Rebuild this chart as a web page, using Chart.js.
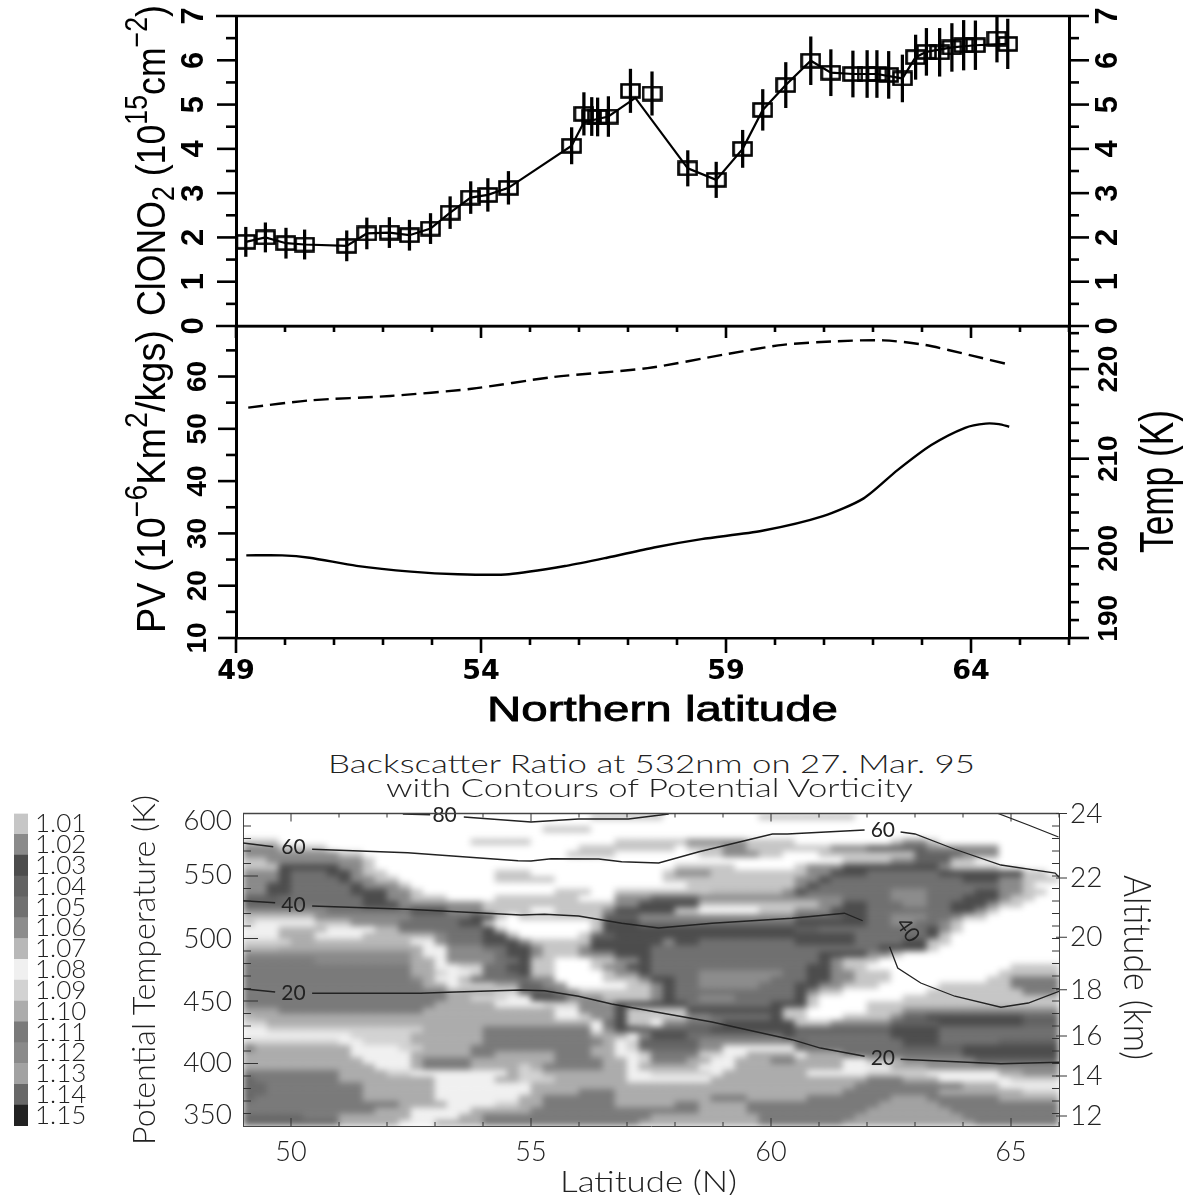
<!DOCTYPE html>
<html>
<head>
<meta charset="utf-8">
<title>ClONO2, PV and backscatter ratio</title>
<script src="https://cdn.jsdelivr.net/npm/chart.js@4/dist/chart.umd.min.js"></script>
<style>
  html, body { margin: 0; background: #fff; }
  #page { position: relative; width: 1191px; height: 1195px; overflow: hidden; background: #fff; }
  #page canvas { position: absolute; left: 0; }
  /* the field in the reference has soft contour edges, the axes stay sharp on their own canvas */
  #cells { filter: blur(3px); clip-path: inset(23.5px 132px 69px 243px); }
  .lab { position: absolute; left: 0; top: 0; line-height: 1; white-space: nowrap; transform-origin: 0 0; }
  .up { font-size: .75em; position: relative; top: -.6em; }
  .dn { font-size: .75em; position: relative; top: .3em; }
</style>
</head>
<body>
<div id="page">
  <canvas id="cells" width="1191" height="405" style="top:790px"></canvas>
  <canvas id="heat" width="1191" height="405" style="top:790px"></canvas>
  <canvas id="bar" width="120" height="350" style="top:790px"></canvas>
  <canvas id="pv" width="1191" height="420" style="top:300px"></canvas>
  <canvas id="clono" width="1191" height="386" style="top:-40px"></canvas>
</div>
<script>
// top panel
const clonoLat = [49.2, 49.6, 50.02, 50.4, 51.26, 51.67, 52.13, 52.54, 52.97, 53.37, 53.79, 54.14, 54.56, 55.85, 56.1, 56.26, 56.38, 56.6, 57.05, 57.49, 58.22, 58.8, 59.34, 59.75, 60.22, 60.73, 61.14, 61.59, 61.88, 62.08, 62.32, 62.6, 62.87, 63.09, 63.36, 63.61, 63.85, 64.09, 64.53, 64.75];
const clonoVal = [1.9, 2.0, 1.87, 1.84, 1.81, 2.09, 2.11, 2.05, 2.2, 2.56, 2.9, 2.96, 3.12, 4.07, 4.79, 4.73, 4.72, 4.73, 5.31, 5.25, 3.56, 3.3, 4.0, 4.88, 5.44, 5.99, 5.72, 5.69, 5.69, 5.69, 5.67, 5.59, 6.07, 6.19, 6.18, 6.29, 6.34, 6.34, 6.49, 6.37];
const clonoErr = [.33, .33, .34, .33, .34, .35, .34, .34, .34, .36, .36, .37, .37, .41, .48, .43, .43, .45, .49, .49, .4, .4, .42, .46, .51, .54, .52, .52, .53, .53, .53, .53, .5, .53, .54, .54, .56, .55, .53, .56];
// the joining line misses the two boxes at the peak
const lineLat = [49.2, 49.6, 50.02, 50.4, 51.26, 51.67, 52.13, 52.54, 52.97, 53.37, 53.79, 54.14, 54.56, 55.85, 56.1, 56.6, 57.15, 58.22, 58.8, 59.34, 59.75, 60.22, 60.73, 61.14, 61.59, 62.08, 62.6, 62.87, 63.09, 63.61, 64.09, 64.75];
const lineVal = [1.9, 2.0, 1.87, 1.84, 1.81, 2.09, 2.11, 2.05, 2.2, 2.56, 2.9, 2.96, 3.12, 4.07, 4.6, 4.73, 5.15, 3.56, 3.3, 4.0, 4.88, 5.44, 5.99, 5.72, 5.69, 5.69, 5.59, 6.07, 6.19, 6.29, 6.34, 6.37];

// middle panel
const pvLat = [49.21, 49.94, 50.5, 51.46, 52.57, 53.53, 54.57, 55.74, 56.57, 57.53, 58.5, 59.74, 60.98, 61.81, 62.5, 63.19, 63.88, 64.3, 64.57, 64.78];
const pvVal = [25.8, 25.8, 25.35, 23.8, 22.7, 22.2, 22.2, 23.8, 25.35, 27.3, 28.9, 30.5, 33.3, 36.7, 42.1, 46.9, 50.2, 51, 50.9, 50.4];
const tempLat = [49.25, 50.5, 52.15, 53.81, 55.46, 57.4, 59.05, 60.16, 61.26, 62.22, 63.05, 64.02, 64.78];
const tempVal = [215.7, 216.5, 217, 217.8, 219.1, 220.1, 221.7, 222.7, 223.1, 223.2, 222.7, 221.5, 220.5];

// backscatter: one string per 5 K row from 600 K down, runs of level<endColumn, columns are 0.25 deg from 49N
// 0 = below 1.01, 1..9 and a..f = 1.01 .. 1.15
const backscatterRuns = [
"0<29 1<35 0<43 1<51 0<68",
"0<68",
"0<25 1<29 0<68",
"0<68",
"1<3 0<19 1<24 0<31 1<37 2<42 1<46 0<54 1<55 2<57 1<58 0<68",
"2<3 1<7 0<28 1<36 0<37 1<40 2<42 1<49 2<52 4<57 2<63 0<68",
"2<8 1<10 0<27 1<31 0<38 1<40 2<43 1<45 0<48 1<56 4<60 2<63 0<68",
"1<2 2<10 1<11 0<50 1<54 2<56 4<59 1<61 0<68",
"1<3 3<8 2<10 1<11 0<36 1<41 0<46 1<47 2<50 3<58 2<59 1<63 0<68",
"2<3 3<4 5<7 3<9 2<10 1<12 0<21 1<24 0<35 1<36 2<39 1<47 2<49 3<52 5<58 3<65 1<67 0<68",
"2<3 3<4 5<8 3<9 2<11 1<13 0<21 1<26 0<35 1<46 2<48 3<49 5<60 3<63 2<65 1<68",
"2<2 3<4 5<9 3<10 2<13 1<14 0<37 1<46 2<47 3<48 5<63 2<65 1<66 0<68",
"2<2 3<4 5<9 3<12 2<14 1<15 0<26 1<29 0<31 1<39 7<45 2<46 3<47 5<54 6<57 5<61 3<63 2<65 1<67 0<68",
"4<3 5<10 3<12 2<14 1<17 0<21 1<28 0<31 2<34 4<38 2<50 5<54 6<57 5<60 3<63 2<64 1<66 0<68",
"4<4 5<10 3<13 2<20 1<31 2<33 3<38 1<48 2<50 3<52 5<55 6<57 5<59 3<62 2<63 1<65 0<68",
"2<7 5<14 3<17 2<20 1<24 0<26 1<30 2<31 3<36 1<38 0<43 1<46 2<49 3<52 5<59 3<61 2<62 1<63 0<68",
"1<6 2<14 5<19 3<21 1<22 0<23 1<30 4<33 2<46 4<50 3<52 5<54 6<57 5<59 2<60 1<62 0<68",
"1<1 8<6 1<9 2<13 5<18 3<20 1<21 0<29 1<30 3<33 5<46 3<52 5<54 6<56 5<58 2<59 1<60 0<68",
"8<3 7<7 8<11 7<13 5<20 3<21 1<22 0<29 1<30 3<46 4<48 5<57 3<58 2<59 1<60 0<68",
"8<3 a<6 8<10 7<16 2<17 5<20 3<22 7<23 0<28 1<29 4<31 3<51 5<57 3<58 1<59 0<68",
"9<4 a<6 7<14 8<16 2<17 5<20 3<23 2<24 1<29 3<35 2<36 3<38 5<46 3<51 5<55 3<57 1<59 0<68",
"7<3 a<15 8<17 2<20 5<22 3<24 2<25 1<28 2<29 3<34 5<53 3<57 1<58 0<68",
"c<14 a<15 8<17 2<21 5<22 3<24 2<25 1<28 2<31 3<34 5<48 3<52 2<54 1<55 0<68",
"b<6 c<14 a<16 8<17 2<21 5<23 3<24 1<26 0<29 1<31 2<33 3<34 5<48 3<49 2<50 1<53 0<68",
"b<14 a<16 8<18 9<20 5<22 3<24 1<26 0<29 1<30 2<32 3<34 5<47 3<49 2<50 1<52 0<64 1<68",
"b<14 a<16 9<17 8<19 9<20 5<22 4<23 3<24 1<26 0<30 1<31 2<33 3<34 5<38 6<45 5<47 3<49 2<51 1<54 0<63 1<68",
"b<14 c<15 a<16 8<18 7<19 5<24 2<26 0<30 1<33 2<34 3<36 5<38 6<44 5<47 3<49 2<51 1<54 0<62 1<64 b<68",
"b<15 a<17 8<18 9<21 a<23 4<25 2<27 0<32 1<34 2<35 3<36 5<38 6<43 5<46 3<48 2<50 1<53 0<58 1<64 b<68",
"b<17 a<21 9<23 4<26 2<28 1<34 2<35 3<36 5<46 3<47 2<48 1<50 0<57 1<65 b<68",
"b<17 a<19 9<22 8<24 3<27 2<30 1<34 2<35 3<36 5<38 6<41 5<46 3<47 1<48 0<55 1<68",
"b<16 a<21 8<25 9<28 2<31 3<37 5<44 3<47 1<48 0<52 1<68",
"d<3 b<15 a<26 8<28 2<31 3<32 1<37 3<45 1<47 0<52 1<55 2<68",
"7<1 a<26 8<28 9<29 2<31 3<32 1<37 2<39 5<44 3<45 1<47 0<50 1<54 2<55 4<57 3<65 4<68",
"9<2 a<29 8<30 5<31 3<32 1<34 0<35 2<37 5<40 3<46 1<49 2<54 4<58 3<65 4<68",
"8<2 9<15 a<20 b<29 8<30 2<31 3<33 4<39 3<46 4<54 3<58 5<68",
"8<9 9<14 a<20 b<29 a<32 8<33 2<34 3<37 5<45 3<46 5<54 3<58 5<68",
"9<8 8<10 9<14 a<20 b<30 a<31 8<32 9<33 4<38 2<46 4<47 5<55 3<58 5<63 4<68",
"b<1 a<9 8<13 9<15 a<19 b<29 a<31 8<32 9<33 e<38 2<40 8<46 5<55 4<60 3<68",
"a<9 8<14 a<19 b<21 a<26 b<29 a<31 8<33 9<34 b<38 9<40 8<42 a<46 8<47 a<50 5<60 3<68",
"a<10 8<14 a<15 b<19 a<26 b<30 a<32 8<33 9<34 b<37 a<39 8<41 a<44 b<46 a<50 8<52 7<55 c<61 4<68",
"a<11 8<14 a<15 b<19 a<23 9<24 a<25 b<30 a<32 8<33 a<38 8<41 a<50 8<54 a<57 c<68",
"b<8 a<12 9<14 8<22 a<23 9<25 a<32 8<34 9<39 8<40 a<47 8<52 9<57 8<63 a<65 c<68",
"e<1 b<8 a<16 8<21 a<23 9<26 a<32 8<39 a<52 b<55 a<58 8<64 9<68",
"e<2 b<10 a<16 8<24 a<51 b<60 a<63 8<68",
"e<2 b<10 a<16 8<24 a<28 b<31 a<50 b<58 a<65 9<68",
"e<1 b<10 a<16 8<23 a<25 b<31 a<39 b<42 a<47 b<54 d<57 b<63 a<68",
"b<13 a<17 8<21 9<23 a<25 b<31 a<36 b<38 a<42 b<53 d<58 b<68",
"b<11 a<14 8<19 a<24 b<38 a<42 b<52 d<59 b<68",
"e<5 b<8 a<14 8<18 a<20 b<34 a<43 b<51 d<60 b<68",
"e<8 a<13 8<16 a<20 b<33 a<43 b<50 d<61 b<68"
];
const ratioLevels = [1.01, 1.02, 1.03, 1.04, 1.05, 1.06, 1.07, 1.08, 1.09, 1.10, 1.11, 1.12, 1.13, 1.14, 1.15];
const levelColors = ["#c6c6c6", "#8a8a8a", "#4c4c4c", "#626262", "#707070", "#8c8c8c", "#b8b8b8", "#f0f0f0", "#d2d2d2", "#acacac", "#7a7a7a", "#8a8a8a", "#a2a2a2", "#686868", "#222222"];

// PV contours over the backscatter field, null leaves the gap for the label
const pv80Lat = [52.33, 52.9, null, 53.6, 55.0, 55.99, 57.03, 57.87];
const pv80Theta = [599.6, 599, null, 597.2, 593.2, 595.6, 595.6, 599.6];
const pv60Lat = [49, 49.63, null, 50.44, 52.43, 54.73, 55.0, 55.42, 56.41, 56.89, 57.66, 58.5, 60.03, 60.34, 61.95, null, 62.7, 63.0, 63.83, 64.79, 65.92, 66];
const pv60Theta = [576.4, 573.4, null, 571.4, 568.6, 562.2, 562, 563.8, 563.6, 561.4, 560.4, 569.4, 583.6, 583.6, 586.8, null, 585.2, 583.6, 571.4, 558.8, 552.4, 549];
const pv60TopLat = [64.73, 65.36, 65.99];
const pv60TopTheta = [600, 590.8, 581.2];
const pv40Lat = [49, 49.67, null, 50.44, 52.43, 54.79, 55.28, 55.99, 56.89, 57.66, 58.77, 60.44, 61.53, 61.91, null, 62.47, 62.64, 63.12, 63.83, 64.79, 65.36, 66];
const pv40Theta = [530.2, 528.6, null, 526, 523.4, 518.8, 519.4, 518, 512.2, 508.4, 512.2, 516.2, 520.2, 514.2, null, 493.4, 476.4, 464.4, 453.8, 445, 448.4, 457.8];
const pv20Lat = [49, 49.67, null, 50.44, 52.7, 53.27, 54.79, 55.28, 55.99, 56.68, 57.72, 58.77, 60.44, 61.03, 61.95, null, 62.7, 64.79, 66];
const pv20Theta = [459.8, 457.2, null, 456.2, 456.2, 457, 458.8, 458.2, 453.8, 447.6, 440.4, 433.2, 419, 412.4, 405.8, null, 403.4, 399.8, 401];
const contourText = ["80", "60", "40", "20", "60", "40", "20"];
const contourTextLat = [53.2, 50.05, 50.05, 50.05, 62.33, 62.85, 62.33];
const contourTextTheta = [598.6, 573, 526.8, 456.4, 586.8, 506.8, 404.4];
const contourTextTurn = [0, 0, 0, 0, 0, 55, 0];

// axis labels of the lower figure, the end ones sit inside the frame in the original
const thetaLabels = [350, 400, 450, 500, 550, 600];
const thetaLabelAt = [359, 400.4, 449, 500, 551, 594];
const thetaMinor = [360, 370, 380, 390, 410, 420, 430, 440, 460, 470, 480, 490, 510, 520, 530, 540, 560, 570, 580, 590];
const thetaMajor = [400, 450, 500, 550];
const altLabels = [12, 14, 16, 18, 20, 22, 24];
const altLabelAt = [358, 390, 422, 459, 501, 548.4, 600];
const tempLabels = [190, 200, 210, 220];
const tempLabelAt = [192.2, 200, 210, 220];

const latMajor = [49, 54, 59, 64];
const latMinor = [50, 51, 52, 53, 55, 56, 57, 58, 60, 61, 62, 63, 65, 66];
const heatLatMajor = [50, 55, 60, 65];
const heatLatMinor = [51, 52, 53, 54, 56, 57, 58, 59, 61, 62, 63, 64, 66];

Chart.defaults.animation = false;
Chart.defaults.responsive = false;
Chart.defaults.plugins.legend.display = false;
Chart.defaults.plugins.tooltip.enabled = false;

const BOLD = "'Liberation Sans', sans-serif";
const LIGHT = "Lato, 'Open Sans', sans-serif";

// tick marks with two lengths, drawn through the chart's scales
function tickMarks(marks) {
  return {
    id: "tickMarks",
    afterDatasetsDraw(chart) {
      const { ctx, chartArea: a, scales } = chart;
      ctx.save();
      marks.forEach(m => {
        ctx.strokeStyle = m.color || "#000";
        ctx.lineWidth = m.width;
        m.values.forEach(v => {
          const p = scales[m.scale].getPixelForValue(v);
          const e = a[m.edge];
          ctx.beginPath();
          if (m.edge === "left" || m.edge === "right") {
            ctx.moveTo(e + m.from, p);
            ctx.lineTo(e + m.to, p);
          } else {
            ctx.moveTo(p, e + m.from);
            ctx.lineTo(p, e + m.to);
          }
          ctx.stroke();
        });
      });
      ctx.restore();
    }
  };
}

function zip(xs, ys) {
  return xs.map((x, i) => ({ x: x, y: ys[i] }));
}

function boxMarker() {
  const c = document.createElement("canvas");
  c.width = 21;
  c.height = 16;
  const g = c.getContext("2d");
  g.strokeStyle = "#000";
  g.lineWidth = 2.6;
  g.strokeRect(1.5, 1.5, 18, 13);
  return c;
}

// fixed axis width, and no extra room for the end labels or the plot area moves
function fixedWidth(width) {
  return s => {
    s.width = width;
    s.paddingTop = 0;
    s.paddingBottom = 0;
  };
}

function sideAxis(pos, width, min, max, extra) {
  return Object.assign({
    type: "linear",
    position: pos,
    min: min,
    max: max,
    afterFit: fixedWidth(width),
    grid: { drawOnChartArea: false, drawTicks: false },
    border: { display: true, width: 3, color: "#000" }
  }, extra);
}

function rotatedTicks(size, padding, step) {
  return {
    stepSize: step,
    includeBounds: false,
    autoSkip: false,
    minRotation: 90,
    maxRotation: 90,
    crossAlign: "center",
    padding: padding,
    color: "#000",
    font: { family: BOLD, weight: "bold", size: size }
  };
}

// top panel
new Chart(document.getElementById("clono"), {
  type: "bar",
  data: {
    datasets: [
      {
        type: "line", order: 0, data: zip(clonoLat, clonoVal), showLine: false,
        pointStyle: boxMarker(), pointRadius: 10, yAxisID: "y"
      },
      {
        type: "line", order: 1, data: zip(lineLat, lineVal), borderColor: "#000",
        borderWidth: 2.2, pointRadius: 0, yAxisID: "y"
      },
      {
        order: 2, data: clonoLat.map((x, i) => ({ x: x, y: [clonoVal[i] - clonoErr[i], clonoVal[i] + clonoErr[i]] })),
        backgroundColor: "#000", barThickness: 2.6, yAxisID: "y"
      }
    ]
  },
  options: {
    layout: { padding: { top: 56 } },
    scales: {
      x: {
        type: "linear", min: 49, max: 66, offset: false,
        afterFit: s => { s.height = 20; },
        grid: { drawOnChartArea: false, drawTicks: false, offset: false },
        border: { display: true, width: 2.6, color: "#000" },
        ticks: { display: false }
      },
      y: sideAxis("left", 236, 0, 7, { ticks: rotatedTicks(31, 33, 1) }),
      yr: sideAxis("right", 122, 0, 7, { ticks: rotatedTicks(31, 31, 1) })
    }
  },
  plugins: [tickMarks([
    { scale: "y", edge: "left", values: [7, 0], from: -20, to: 853, width: 2.6 },
    { scale: "y", edge: "left", values: [1, 2, 3, 4, 5, 6], from: -19, to: 0, width: 2.6 },
    { scale: "y", edge: "left", values: [.5, 1.5, 2.5, 3.5, 4.5, 5.5, 6.5], from: -10, to: 0, width: 2.6 },
    { scale: "yr", edge: "right", values: [1, 2, 3, 4, 5, 6], from: 0, to: 20, width: 2.6 },
    { scale: "yr", edge: "right", values: [.5, 1.5, 2.5, 3.5, 4.5, 5.5, 6.5], from: 0, to: 10, width: 2.6 },
    { scale: "x", edge: "bottom", values: latMajor, from: 0, to: 12, width: 2.6 },
    { scale: "x", edge: "bottom", values: latMinor, from: 0, to: 6, width: 2.6 }
  ])]
});

// middle panel
new Chart(document.getElementById("pv"), {
  type: "line",
  data: {
    datasets: [
      {
        data: zip(pvLat, pvVal), borderColor: "#000", borderWidth: 2.4, pointRadius: 0,
        tension: 0.25, yAxisID: "y"
      },
      {
        data: zip(tempLat, tempVal), borderColor: "#000", borderWidth: 2.4, pointRadius: 0,
        tension: 0.25, borderDash: [15, 7], yAxisID: "yr"
      }
    ]
  },
  options: {
    layout: { padding: { top: 26 } },
    scales: {
      x: {
        type: "linear", min: 49, max: 66,
        afterFit: s => { s.height = 82; },
        afterBuildTicks: s => { s.ticks = latMajor.map(v => ({ value: v })); },
        grid: { drawOnChartArea: false, drawTicks: false },
        border: { display: true, width: 2.6, color: "#000" },
        ticks: {
          autoSkip: false, maxRotation: 0, padding: 18, color: "#000",
          font: { family: "'DejaVu Sans', sans-serif", weight: "bold", size: 27 }
        }
      },
      y: sideAxis("left", 236, 10, 69.66, { ticks: rotatedTicks(28, 22, 10) }),
      yr: sideAxis("right", 122, 190, 224.8, {
        afterBuildTicks: s => { s.ticks = tempLabelAt.map(v => ({ value: v })); },
        ticks: Object.assign(rotatedTicks(28, 17, 10), { callback: (v, i) => tempLabels[i] })
      })
    }
  },
  plugins: [tickMarks([
    { scale: "y", edge: "left", values: [10, 20, 30, 40, 50, 60], from: -18, to: 0, width: 2.6 },
    { scale: "y", edge: "left", values: [15, 25, 35, 45, 55, 65], from: -10, to: 0, width: 2.6 },
    { scale: "yr", edge: "right", values: [190, 200, 210, 220], from: 0, to: 20, width: 2.6 },
    { scale: "yr", edge: "right", values: [192, 194, 196, 198, 202, 204, 206, 208, 212, 214, 216, 218, 222, 224], from: 0, to: 10, width: 2.6 },
    { scale: "x", edge: "bottom", values: latMajor, from: 0, to: 15, width: 2.6 },
    { scale: "x", edge: "bottom", values: latMinor, from: 0, to: 7, width: 2.6 }
  ])]
});

// turn the run strings into one backscatter value per cell
const backscatter = backscatterRuns.map(row => {
  const cells = [];
  row.split(" ").forEach(run => {
    const level = parseInt(run[0], 16);
    const end = Number(run.slice(2));
    while (cells.length < end) cells.push(level === 0 ? 1.0 : ratioLevels[level - 1]);
  });
  return cells;
});

function ratioColor(v) {
  const i = ratioLevels.findIndex(r => Math.abs(r - v) < 0.001);
  return i < 0 ? "#ffffff" : levelColors[i];
}

// backscatter cells
new Chart(document.getElementById("cells"), {
  type: "bar",
  data: {
    datasets: backscatter.map((cells, r) => ({
      data: cells.map((v, c) => ({ x: 49.125 + 0.25 * c, y: [600 - 5 * (r + 1), 600 - 5 * r] })),
      backgroundColor: cells.map(ratioColor),
      barPercentage: 1,
      categoryPercentage: 1,
      grouped: false
    }))
  },
  options: {
    layout: { padding: { left: 243, right: 132, top: 23.5, bottom: 69 } },
    scales: {
      x: { type: "linear", min: 49, max: 66, offset: false, display: false },
      y: { type: "linear", min: 350, max: 600, display: false }
    }
  }
});

function contourLine(lat, theta) {
  return {
    data: zip(lat, theta), borderColor: "#222", borderWidth: 1.3,
    pointRadius: 0, spanGaps: false, yAxisID: "y"
  };
}

const contourLabels = {
  id: "contourLabels",
  afterDatasetsDraw(chart) {
    const { ctx, scales } = chart;
    contourText.forEach((t, i) => {
      ctx.save();
      ctx.translate(scales.x.getPixelForValue(contourTextLat[i]), scales.y.getPixelForValue(contourTextTheta[i]));
      ctx.rotate(contourTextTurn[i] * Math.PI / 180);
      ctx.font = "21px " + LIGHT;
      ctx.fillStyle = "#222";
      ctx.textAlign = "center";
      ctx.textBaseline = "middle";
      ctx.fillText(t, 0, 0);
      ctx.restore();
    });
  }
};

const heatTickFont = { family: LIGHT, size: 28, weight: "300" };

// contours and axes over the field
new Chart(document.getElementById("heat"), {
  type: "line",
  data: {
    datasets: [
      contourLine(pv80Lat, pv80Theta),
      contourLine(pv60Lat, pv60Theta),
      contourLine(pv60TopLat, pv60TopTheta),
      contourLine(pv40Lat, pv40Theta),
      contourLine(pv20Lat, pv20Theta)
    ]
  },
  options: {
    layout: { padding: { top: 23.5 } },
    scales: {
      x: {
        type: "linear", min: 49, max: 66,
        afterFit: s => { s.height = 69; },
        afterBuildTicks: s => { s.ticks = heatLatMajor.map(v => ({ value: v })); },
        grid: { drawOnChartArea: false, drawTicks: false },
        border: { display: true, width: 1, color: "#444" },
        ticks: { autoSkip: false, maxRotation: 0, padding: 10, color: "#222", font: { family: LIGHT, size: 27, weight: "300" } }
      },
      y: {
        type: "linear", position: "left", min: 350, max: 600,
        afterFit: fixedWidth(243),
        afterBuildTicks: s => { s.ticks = thetaLabelAt.map(v => ({ value: v })); },
        grid: { drawOnChartArea: false, drawTicks: false },
        border: { display: true, width: 1, color: "#444" },
        ticks: { autoSkip: false, padding: 11, color: "#222", font: heatTickFont, callback: (v, i) => thetaLabels[i] }
      },
      yr: {
        type: "linear", position: "right", min: 350, max: 600,
        afterFit: fixedWidth(132),
        afterBuildTicks: s => { s.ticks = altLabelAt.map(v => ({ value: v })); },
        grid: { drawOnChartArea: false, drawTicks: false },
        border: { display: true, width: 1, color: "#444" },
        ticks: { autoSkip: false, padding: 11, color: "#222", font: heatTickFont, callback: (v, i) => altLabels[i] }
      }
    }
  },
  plugins: [contourLabels, tickMarks([
    { scale: "y", edge: "left", values: [600], from: 0, to: 816, width: 1.5, color: "#444" },
    { scale: "y", edge: "left", values: thetaMajor, from: 0, to: 15, width: 1, color: "#333" },
    { scale: "y", edge: "left", values: thetaMinor, from: 0, to: 8, width: 1, color: "#333" },
    { scale: "yr", edge: "right", values: thetaMinor.concat(thetaMajor), from: -7, to: 0, width: 1, color: "#333" },
    { scale: "yr", edge: "right", values: altLabelAt, from: -3, to: 8, width: 1, color: "#333" },
    { scale: "x", edge: "bottom", values: heatLatMajor, from: -8, to: 0, width: 1, color: "#333" },
    { scale: "x", edge: "bottom", values: heatLatMinor, from: -4, to: 0, width: 1, color: "#333" },
    { scale: "x", edge: "top", values: heatLatMajor, from: 0, to: 8, width: 1, color: "#333" },
    { scale: "x", edge: "top", values: heatLatMinor, from: 0, to: 4, width: 1, color: "#333" }
  ])]
});

// level key
new Chart(document.getElementById("bar"), {
  type: "bar",
  data: {
    labels: ratioLevels.map(v => v.toFixed(2)),
    datasets: [{
      data: ratioLevels.map(() => 1),
      backgroundColor: levelColors,
      barPercentage: 1,
      categoryPercentage: 1
    }]
  },
  options: {
    indexAxis: "y",
    layout: { padding: { top: 23.5, left: 14, bottom: 14 } },
    scales: {
      x: { type: "linear", min: 0, max: 1, display: false },
      y: {
        position: "right",
        afterFit: fixedWidth(92),
        grid: { display: false, drawTicks: false },
        border: { display: false },
        ticks: { autoSkip: false, padding: 7, color: "#222", font: { family: LIGHT, size: 26, weight: "300" } }
      }
    }
  }
});

// axis titles and headings, x and y are the corner of the text box before it is turned
function placeLabel(html, x, y, len, turn, size, family, weight, color) {
  const el = document.createElement("div");
  el.className = "lab";
  el.innerHTML = html;
  el.style.fontSize = size + "px";
  el.style.fontFamily = family;
  el.style.fontWeight = weight;
  el.style.color = color;
  document.getElementById("page").appendChild(el);
  const w = el.getBoundingClientRect().width;
  el.style.transform = "translate(" + x + "px," + y + "px) rotate(" + turn + "deg) scaleX(" + (len / w) + ")";
  return el;
}

placeLabel('ClONO<span class="dn">2</span> (10<span class="up">15</span>cm<span class="up">\u22122</span>)', 131, 316, 311, -90, 41, BOLD, "normal", "#000");
placeLabel('PV (10<span class="up">\u22126</span>Km<span class="up">2</span>/kgs)', 131, 633, 303, -90, 41, BOLD, "normal", "#000");
placeLabel("Temp (K)", 1133, 553, 143, -90, 48, BOLD, "normal", "#000");
placeLabel("Northern latitude", 487, 691, 351, 0, 35, BOLD, "normal", "#000").style.webkitTextStroke = "0.8px #000";
placeLabel("Backscatter Ratio at 532nm on 27. Mar. 95", 328, 750, 647, 0, 26, LIGHT, "300", "#222");
placeLabel("with Contours of Potential Vorticity", 386, 774, 527, 0, 26, LIGHT, "300", "#222");
placeLabel("Potential Temperature (K)", 127, 1145, 350, -90, 32, LIGHT, "300", "#222");
placeLabel("Altitude (km)", 1157, 875, 185, 90, 37, LIGHT, "300", "#222");
placeLabel("Latitude (N)", 560, 1166, 177, 0, 29, LIGHT, "300", "#222");
</script>
</body>
</html>
